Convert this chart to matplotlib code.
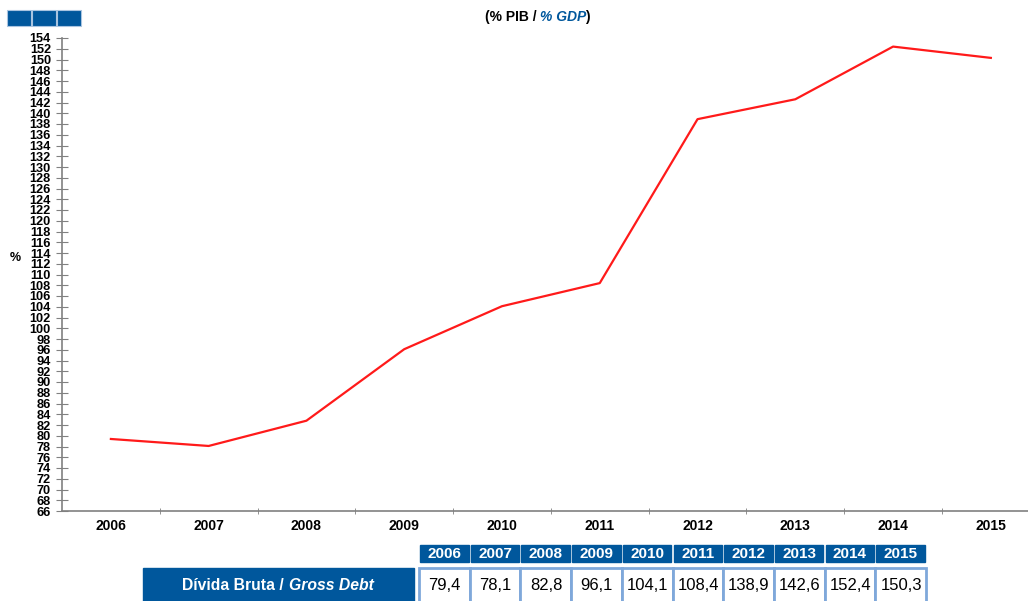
import matplotlib.pyplot as plt
from matplotlib.patches import Rectangle

years = ["2006", "2007", "2008", "2009", "2010", "2011", "2012", "2013", "2014", "2015"]
debt = [79.4, 78.1, 82.8, 96.1, 104.1, 108.4, 138.9, 142.6, 152.4, 150.3]
y_ticks = list(range(66, 155, 2))

blue = "#00579c"
cell_edge = "#7fa8da"
grey = "#808080"

plt.rcParams["font.family"] = ["Liberation Sans", "DejaVu Sans"]

W, H = 1028, 601
fig = plt.figure(figsize=(W / 100, H / 100), dpi=100)


def fx(px):
    return px / W


def fy(py):
    return 1 - py / H


ax = fig.add_axes([fx(62), fy(511), fx(1028 - 62), fy(38) - fy(511)])
x = list(range(len(years)))
ax.plot(x, debt, color="#ff1a1a", lw=1.6)

ax.set_xlim(-0.5, 9.38)
ax.set_ylim(66, 154)
ax.set_yticks(y_ticks)
ax.set_yticklabels([str(v) for v in y_ticks], fontsize=9.2, fontweight="bold")
ax.set_xticks(x)
ax.set_xticklabels(years, fontsize=10, fontweight="bold")
ax.set_xticks([i + 0.5 for i in range(len(years) - 1)], minor=True)
ax.tick_params(axis="x", which="major", length=0, pad=6)
ax.tick_params(axis="x", which="minor", length=4, direction="inout", color=grey)
ax.tick_params(axis="y", length=8, direction="inout", color=grey, pad=4)
for s in ["top", "right"]:
    ax.spines[s].set_visible(False)
for s in ["left", "bottom"]:
    ax.spines[s].set_color(grey)
    ax.spines[s].set_linewidth(1.2)

fig.text(fx(15), fy(258), "%", fontsize=9, fontweight="bold", ha="center", va="center")

# small blue blocks in the corner
for i in range(3):
    fig.add_artist(Rectangle((fx(7 + i * 25), fy(26)), fx(23.5), fy(10) - fy(26),
                             transform=fig.transFigure, facecolor=blue,
                             edgecolor="#a9c4e0", lw=0.8))

# title with mixed styling
renderer = fig.canvas.get_renderer()
parts = [("(% PIB / ", "black", "normal"), ("% GDP", blue, "italic"), (")", "black", "normal")]
cur = fx(485)
for txt, col, st in parts:
    t = fig.text(cur, fy(17), txt, fontsize=10, fontweight="bold", color=col,
                 style=st, ha="left", va="center")
    bb = t.get_window_extent(renderer)
    cur += bb.width / W - (1.5 / W if st == "italic" else 0)

# data table under the chart
x0, cw, gap = 420, 48.5, 2.2
for i, (yr, v) in enumerate(zip(years, debt)):
    left = x0 + i * (cw + gap)
    fig.add_artist(Rectangle((fx(left), fy(562)), fx(cw), fy(545) - fy(562),
                             transform=fig.transFigure, color=blue))
    fig.text(fx(left + cw / 2), fy(553.5), yr, color="white", fontsize=11,
             fontweight="bold", ha="center", va="center")
    fig.add_artist(Rectangle((fx(left - 1), fy(603)), fx(cw + gap), fy(568) - fy(603),
                             transform=fig.transFigure, facecolor="white",
                             edgecolor=cell_edge, lw=2))
    fig.text(fx(left + cw / 2 + 0.5), fy(585), f"{v:.1f}".replace(".", ","),
             fontsize=12, ha="center", va="center")

fig.add_artist(Rectangle((fx(143), fy(601)), fx(414 - 143), fy(568) - fy(601),
                         transform=fig.transFigure, color=blue))
label_parts = [("Dívida Bruta / ", "normal"), ("Gross Debt", "italic")]
widths = []
texts = []
for txt, st in label_parts:
    t = fig.text(0, fy(585), txt, color="white", fontsize=11.3, fontweight="bold",
                 style=st, ha="left", va="center")
    texts.append(t)
    widths.append(t.get_window_extent(renderer).width)
cur = 278 - sum(widths) / 2
for t, w in zip(texts, widths):
    t.set_x(fx(cur))
    cur += w

fig.savefig("out.png", dpi=100)
